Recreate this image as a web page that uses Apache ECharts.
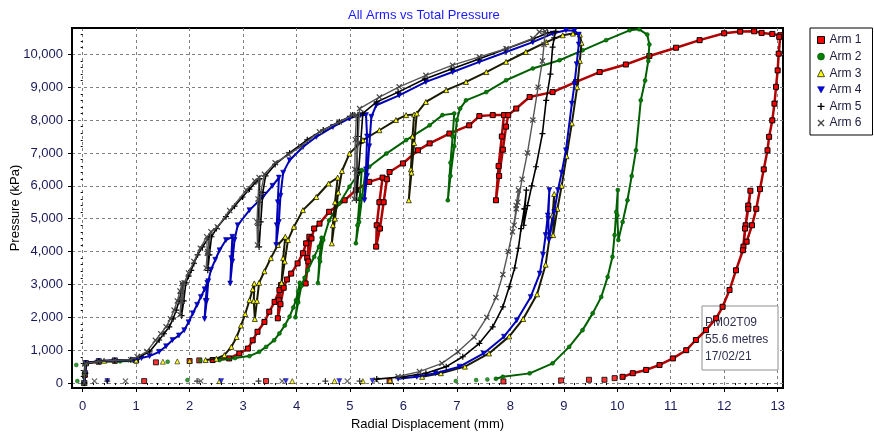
<!DOCTYPE html>
<html><head><meta charset="utf-8">
<script src="https://cdn.jsdelivr.net/npm/echarts@6/dist/echarts.min.js"></script>
<style>html,body{margin:0;padding:0;background:#fff}#c{width:874px;height:433px}</style>
</head><body><div id="c"></div>
<script>
// ---- tick labels ----
const xTicks = [0,1,2,3,4,5,6,7,8,9,10,11,12,13];
const yTicks = [0,1000,2000,3000,4000,5000,6000,7000,8000,9000,10000];
const armNames = ['Arm 1','Arm 2','Arm 3','Arm 4','Arm 5','Arm 6'];
const noteLines = ['PM02T09','55.6 metres','17/02/21'];

// ---- Arm 1 (red squares) ----
const arm1Start = [[0.03,0],[0.04,250],[0.06,600],[0.3,650],[0.6,680],[1.0,690]];
const arm1Curve = [[2.43,700],[2.74,750],[2.93,900],[3.09,1050],[3.18,1300],[3.27,1560],[3.4,1860],[3.49,2170],[3.59,2470],[3.68,2830],[3.71,2980],
 [3.67,2520],[3.65,1970],[3.7,2400],[3.76,2900],[3.82,3150],[3.9,3330],[4.02,3640],[4.12,3950],[4.18,4250],[4.24,4450],
 [4.2,3800],[4.17,3030],[4.22,3700],[4.28,4400],[4.33,4700],[4.43,4850],[4.61,5210],[4.9,5560],[5.11,5870],[5.36,6120],[5.61,6250],
 [5.55,5500],[5.5,4800],[5.49,4150],[5.56,4700],[5.63,5500],[5.69,6200],[5.74,6420],[5.99,6680],[6.27,7080],[6.49,7290],[6.86,7590],[7.23,7840],[7.42,8120],[7.67,8150],[7.88,8150],
 [7.84,7500],[7.78,6600],[7.73,5560],[7.79,6300],[7.86,7100],[7.92,7800],[7.96,8150],[8.11,8350],[8.36,8700],[8.79,8850],[9.23,9160],[9.67,9460],[10.16,9690],[10.6,9950],[11.1,10200],[11.54,10430],[12.0,10640],[12.3,10690],[12.56,10700],[12.7,10650],[12.9,10620],[13.05,10580],
 [13.03,10530],[13.02,10020],[13.0,9510],[12.97,9010],[12.94,8500],[12.9,7990],[12.84,7490],[12.81,7080],[12.74,6500],[12.67,5900],[12.6,5300],[12.52,4800],[12.42,4300],[12.36,4150],
 [12.4,4800],[12.45,5400],[12.49,5850],[12.45,5300],[12.39,4700],[12.35,4040],[12.22,3430],[12.1,2830],[11.97,2320],[11.85,1970],[11.66,1610],[11.47,1310],[11.29,1000],[11.04,750],[10.79,550],[10.54,400],[10.29,300],[10.1,190]];
const arm1Dots = [[1.37,630],[2.0,670],[2.18,690],[1.15,60],[3.43,60],[5.74,60],[7.87,50],[8.95,80],[9.47,100],[9.76,100],[9.95,150]];

// ---- Arm 2 (green circles) ----
const arm2Start = [[0.02,0],[0.03,300],[0.05,600],[0.3,650],[0.7,660],[1.0,670]];
const arm2Curve = [[2.56,700],[2.85,760],[3.12,820],[3.3,950],[3.43,1100],[3.58,1300],[3.68,1510],[3.78,1750],[3.87,2020],[3.94,2300],[3.99,2520],[4.03,2800],[4.06,3050],
 [4.02,2500],[3.98,2000],[4.03,2450],[4.09,2950],[4.15,3200],[4.21,3430],[4.33,3840],[4.42,4150],[4.47,4420],
 [4.43,3800],[4.4,3040],[4.44,3700],[4.5,4350],[4.61,4950],[4.8,5460],[4.99,5970],[5.15,6350],[5.22,6480],
 [5.18,5600],[5.14,4800],[5.11,4250],[5.17,4900],[5.23,5700],[5.29,6450],[5.36,6580],[5.68,6980],[6.05,7390],[6.49,7840],[6.73,8150],[6.95,8200],
 [6.92,7500],[6.88,6700],[6.83,5560],[6.88,6300],[6.95,7200],[7.0,8000],[7.06,8350],[7.17,8600],[7.55,8850],[7.92,9210],[8.42,9570],[8.92,9820],[9.35,10120],[9.79,10430],[10.23,10730],[10.41,10760],[10.56,10600],
 [10.6,10300],[10.58,9800],[10.52,9200],[10.44,8600],[10.35,7080],[10.27,6300],[10.19,5560],[10.1,4900],[10.02,4350],
 [10.0,5100],[10.01,5870],[9.98,5200],[9.95,4500],[9.91,3840],[9.82,3230],[9.7,2620],[9.54,2120],[9.35,1610],[9.1,1100],[8.79,600],[8.36,295],[7.86,190],[7.73,130]];
const arm2Dots = [[-0.12,550],[-0.1,60],[1.59,650],[2.2,690],[1.96,90],[6.98,60],[7.36,90],[7.57,110]];

// ---- Arm 3 (yellow triangles) ----
const arm3Start = [[0.03,0],[0.04,300],[0.06,620],[0.4,680],[1.0,690]];
const arm3Curve = [[2.3,700],[2.5,740],[2.65,850],[2.78,1100],[2.88,1400],[2.96,1750],[3.04,2100],[3.12,2520],[3.18,2850],[3.21,3030],
 [3.2,2500],[3.22,1950],[3.26,2500],[3.3,3050],[3.4,3400],[3.52,3800],[3.65,4200],[3.79,4450],
 [3.75,3800],[3.72,3050],[3.78,3700],[3.84,4350],[3.95,4750],[4.12,5260],[4.37,5660],[4.6,6070],[4.77,6250],
 [4.72,5500],[4.68,4800],[4.66,4250],[4.72,5000],[4.78,5800],[4.85,6450],[4.99,6980],[5.24,7390],[5.55,7690],[5.86,8000],[6.05,8150],[6.2,8170],
 [6.17,7500],[6.14,6500],[6.1,5560],[6.15,6400],[6.2,7300],[6.25,8200],[6.42,8550],[6.8,8910],[7.17,9160],[7.55,9460],[7.92,9770],[8.29,10070],[8.67,10370],[8.98,10580],[9.17,10630],[9.3,10600],
 [9.33,10350],[9.3,9800],[9.25,9000],[9.15,7900],[9.05,6900],[8.96,6000],[8.88,5300],[8.8,4500],
 [8.81,5100],[8.82,5750],[8.79,5100],[8.74,4500],[8.66,3600],[8.5,2700],[8.24,1950],[7.98,1420],[7.6,900],[7.15,500],[6.7,300],[6.35,190]];
const arm3Dots = [[1.5,650],[1.77,660],[2.0,680],[2.56,60],[3.92,60],[4.71,60],[5.24,60],[5.75,80]];

// ---- Arm 4 (blue down-triangles) ----
const arm4Start = [[0.03,0],[0.05,300],[0.06,600],[0.3,670],[0.6,690],[0.94,700]];
const arm4Curve = [[1.1,760],[1.25,820],[1.43,950],[1.56,1120],[1.68,1310],[1.8,1450],[1.9,1610],[1.98,1850],[2.06,2120],[2.14,2380],[2.21,2620],[2.28,2850],[2.33,3050],
 [2.3,2500],[2.28,1950],[2.32,2500],[2.35,3100],[2.4,3450],[2.48,3750],[2.56,4040],[2.68,4350],[2.8,4450],
 [2.78,3800],[2.76,3030],[2.8,3700],[2.84,4350],[2.9,4800],[3.12,5260],[3.37,5660],[3.55,6000],[3.67,6250],
 [3.65,5500],[3.63,4800],[3.62,4200],[3.67,4900],[3.7,5700],[3.75,6400],[3.87,6780],[4.12,7180],[4.37,7490],[4.68,7790],[4.99,8050],[5.2,8150],[5.3,8150],
 [5.32,7500],[5.3,6500],[5.27,5560],[5.32,6300],[5.36,7200],[5.4,8100],[5.49,8450],[5.92,8750],[6.42,9160],[6.92,9460],[7.42,9770],[7.92,10070],[8.42,10370],[8.79,10630],[9.04,10730],[9.2,10720],[9.28,10600],
 [9.28,10300],[9.24,9700],[9.2,9100],[9.15,8500],[9.04,7080],[8.96,6400],[8.89,5870],[8.82,5200],[8.72,4350],
 [8.71,5000],[8.73,5870],[8.7,5100],[8.66,4500],[8.61,3900],[8.55,3330],[8.38,2620],[8.12,1910],[7.88,1410],[7.5,900],[7.05,500],[6.6,300],[6.25,190],[5.9,130]];
const arm4Dots = [[0.46,60],[2.59,60],[3.8,60],[4.8,60],[5.42,70]];

// ---- Arm 5 (plus) ----
const arm5Start = [[0.03,0],[0.05,300],[0.06,600],[0.3,670],[0.6,690],[0.9,710]];
const arm5Curve = [[1.06,800],[1.25,950],[1.43,1310],[1.52,1500],[1.62,1710],[1.69,1950],[1.75,2220],[1.8,2480],[1.84,2730],[1.88,3030],
 [1.86,2500],[1.85,2050],[1.89,2500],[1.93,3050],[1.98,3250],[2.03,3430],[2.08,3640],[2.15,3900],[2.24,4140],[2.37,4450],
 [2.35,3900],[2.34,3430],[2.37,3900],[2.41,4450],[2.5,4700],[2.68,5060],[2.84,5380],[2.99,5660],[3.12,5900],[3.24,6120],[3.31,6220],
 [3.3,5500],[3.28,4800],[3.3,4140],[3.33,4900],[3.37,5800],[3.42,6300],[3.6,6650],[3.87,7000],[4.2,7400],[4.5,7700],[4.8,7950],[5.05,8150],[5.15,8150],
 [5.14,7500],[5.13,6500],[5.12,5560],[5.16,6400],[5.2,7300],[5.24,8200],[5.5,8550],[5.9,8850],[6.4,9250],[6.9,9550],[7.4,9850],[7.9,10150],[8.4,10450],[8.7,10650],[8.85,10700],
 [8.82,10500],[8.79,10220],[8.75,9400],[8.67,8600],[8.6,7590],[8.48,6580],[8.4,6000],[8.32,5400],[8.25,4800],
 [8.27,5300],[8.3,5870],[8.26,5300],[8.2,4700],[8.15,4100],[8.08,3500],[7.98,2930],[7.86,2320],[7.67,1710],[7.42,1210],[7.11,800],[6.8,500],[6.42,300],[6.0,190],[5.5,120]];
const arm5Dots = [[0.46,60],[2.14,60],[3.29,60],[4.54,60],[5.18,60]];

// ---- Arm 6 (cross) ----
const arm6Start = [[0.03,0],[0.04,300],[0.05,600],[0.3,660],[0.6,690],[0.9,710]];
const arm6Curve = [[1.02,800],[1.2,960],[1.36,1300],[1.46,1500],[1.56,1710],[1.64,1950],[1.71,2220],[1.77,2500],[1.82,2800],[1.86,3030],
 [1.84,2500],[1.82,2080],[1.86,2500],[1.9,3050],[1.98,3350],[2.08,3700],[2.2,4100],[2.32,4450],
 [2.33,3950],[2.31,3500],[2.34,4000],[2.4,4600],[2.52,4750],[2.75,5250],[3.06,5870],[3.22,6150],[3.3,6250],
 [3.28,5600],[3.26,4900],[3.27,4200],[3.3,4900],[3.33,5800],[3.4,6350],[3.6,6700],[3.85,6950],[4.08,7200],[4.43,7640],[4.8,7940],[5.05,8150],[5.12,8160],
 [5.1,7400],[5.09,6500],[5.08,5600],[5.12,6400],[5.15,7300],[5.18,8350],[5.55,8700],[5.92,9010],[6.42,9360],[6.92,9670],[7.42,9920],[7.92,10170],[8.42,10480],[8.54,10680],[8.65,10700],
 [8.63,10300],[8.6,9800],[8.52,9000],[8.42,8000],[8.32,7000],[8.22,6200],[8.14,5500],[8.07,4800],
 [8.11,5400],[8.15,5870],[8.11,5300],[8.04,4600],[7.96,4000],[7.86,3300],[7.73,2600],[7.56,2000],[7.32,1400],[7.02,950],[6.72,600],[6.3,350],[5.9,200]];
const arm6Dots = [[0.22,60],[0.8,60],[2.21,60],[3.73,60],[4.95,60],[5.49,90]];

// ---- styling ----
const PLUS = 'path://M4,0H6V4H10V6H6V10H4V6H0V4H4Z';
const CROSS = 'path://M1.4,0L5,3.6L8.6,0L10,1.4L6.4,5L10,8.6L8.6,10L5,6.4L1.4,10L0,8.6L3.6,5L0,1.4Z';
const DOWN = 'path://M0,0L10,0L5,9Z';
const FONT = '"Liberation Sans", Arial, sans-serif';
const styles = [
  {symbol:'rect', size:5, color:'#ff0000', border:'#000', bw:1, line:'#b00000', lw:2.5, join:false},
  {symbol:'circle', size:4, color:'#008000', border:'#004000', bw:0.5, line:'#006000', lw:2, join:false},
  {symbol:'triangle', size:5, color:'#ffff00', border:'#000', bw:0.7, line:'#1a1a00', lw:2, join:false},
  {symbol:DOWN, size:5, color:'#0000ff', border:'#000040', bw:0.5, line:'#0000bb', lw:2, join:true},
  {symbol:PLUS, size:6, color:'#000', border:'#000', bw:0, line:'#000', lw:1.6, join:true},
  {symbol:CROSS, size:6, color:'#444', border:'#444', bw:0, line:'#555', lw:1.4, join:true}
];
const starts = [arm1Start, arm2Start, arm3Start, arm4Start, arm5Start, arm6Start];
const curves = [arm1Curve, arm2Curve, arm3Curve, arm4Curve, arm5Curve, arm6Curve];
const dots = [arm1Dots, arm2Dots, arm3Dots, arm4Dots, arm5Dots, arm6Dots];

const series = [];
armNames.forEach((name, i) => {
  const s = styles[i];
  const data = s.join ? starts[i].concat(curves[i]) : starts[i].concat([['-','-']], curves[i]);
  const itemStyle = {color: s.color, borderColor: s.border, borderWidth: s.bw};
  series.push({
    name, type:'line', data, symbol:s.symbol, symbolSize:s.size, showSymbol:true, showAllSymbol:true,
    connectNulls:false, itemStyle, lineStyle:{color:s.line, width:s.lw}, emphasis:{disabled:true}, z: 2 + i*0.01
  });
  series.push({
    name, type:'scatter', data: dots[i], symbol:s.symbol, symbolSize:s.size, itemStyle, emphasis:{disabled:true}
  });
});

// minor ticks derived from the major tick lists
const xMinor = [];
[-1].concat(xTicks).forEach(t => { for (let k = 1; k < 5; k++) { const v = +(t + k*0.2).toFixed(1); if (v >= -0.2 && v <= 13.1) xMinor.push(v); } });
const yMinor = [];
yTicks.forEach(t => { for (let k = 1; k < 5; k++) { const v = t + k*200; if (v <= 10800) yMinor.push(v); } });

const chart = echarts.init(document.getElementById('c'), null, {renderer:'canvas'});
chart.setOption({
  animation:false,
  backgroundColor:'#fff',
  textStyle:{fontFamily:FONT},
  title:{text:'All Arms vs Total Pressure', left:343, top:4,
    textStyle:{color:'#1a1aff', fontSize:13, fontWeight:'normal', fontFamily:FONT}},
  grid:{left:72, top:28, width:711, height:360, show:true, borderColor:'#000', borderWidth:2, backgroundColor:'#fff',
    containLabel:false, outerBoundsMode:'none'},
  legend:{
    orient:'vertical', left:810, top:28, itemWidth:7, itemHeight:7, itemGap:2.6, selectedMode:false,
    padding:[5,11,5,7], borderColor:'#000', borderWidth:1, backgroundColor:'#fff',
    textStyle:{fontSize:12, color:'#202040', lineHeight:14, fontFamily:FONT},
    data: armNames.map((n,i) => ({name:n, icon:styles[i].symbol,
      itemStyle:{color:styles[i].color, borderColor:styles[i].border, borderWidth:styles[i].bw}}))
  },
  xAxis:[{
    type:'value', min:-0.2, max:13.1, name:'Radial Displacement (mm)', nameLocation:'middle', nameGap:30,
    nameMoveOverlap:false,
    nameTextStyle:{fontSize:13, color:'#000', fontFamily:FONT},
    axisLine:{show:true, onZero:false, lineStyle:{color:'#000', width:2}},
    axisTick:{show:true, customValues:xTicks, length:4, lineStyle:{color:'#000'}},
    axisLabel:{customValues:xTicks, margin:12, fontSize:13, color:'#1a1a5a', fontFamily:FONT},
    splitLine:{show:true, lineStyle:{color:'#808080', type:[3,3], width:1}}
  },{
    type:'value', min:-0.2, max:13.1, position:'bottom',
    axisLine:{show:false}, axisLabel:{show:false}, splitLine:{show:false},
    axisTick:{show:true, customValues:xMinor, length:2, lineStyle:{color:'#000'}}
  }],
  yAxis:[{
    type:'value', min:-150, max:10800, name:'Pressure (kPa)', nameLocation:'middle', nameGap:50,
    nameMoveOverlap:false,
    nameTextStyle:{fontSize:13, color:'#000', fontFamily:FONT},
    axisLine:{show:true, onZero:false, lineStyle:{color:'#000', width:2}},
    axisTick:{show:true, customValues:yTicks, length:4, lineStyle:{color:'#000'}},
    axisLabel:{customValues:yTicks, margin:9, fontSize:13, color:'#1a1a5a', fontFamily:FONT,
      formatter: v => Number(v).toLocaleString('en-US')},
    splitLine:{show:true, lineStyle:{color:'#808080', type:[3,3], width:1}}
  },{
    type:'value', min:-150, max:10800, position:'left',
    axisLine:{show:false}, axisLabel:{show:false}, splitLine:{show:false},
    axisTick:{show:true, customValues:yMinor, length:2, lineStyle:{color:'#000'}}
  }],
  graphic:[
    {type:'rect', z:1, shape:{x:702, y:306, width:76, height:64}, style:{fill:'#fff', stroke:'#909090', lineWidth:1}},
    {type:'text', z:1, x:705, y:314, style:{text:noteLines.join('\n'), fill:'#303050', font:'12px ' + FONT, lineHeight:17}}
  ],
  series
});
</script>
</body></html>
